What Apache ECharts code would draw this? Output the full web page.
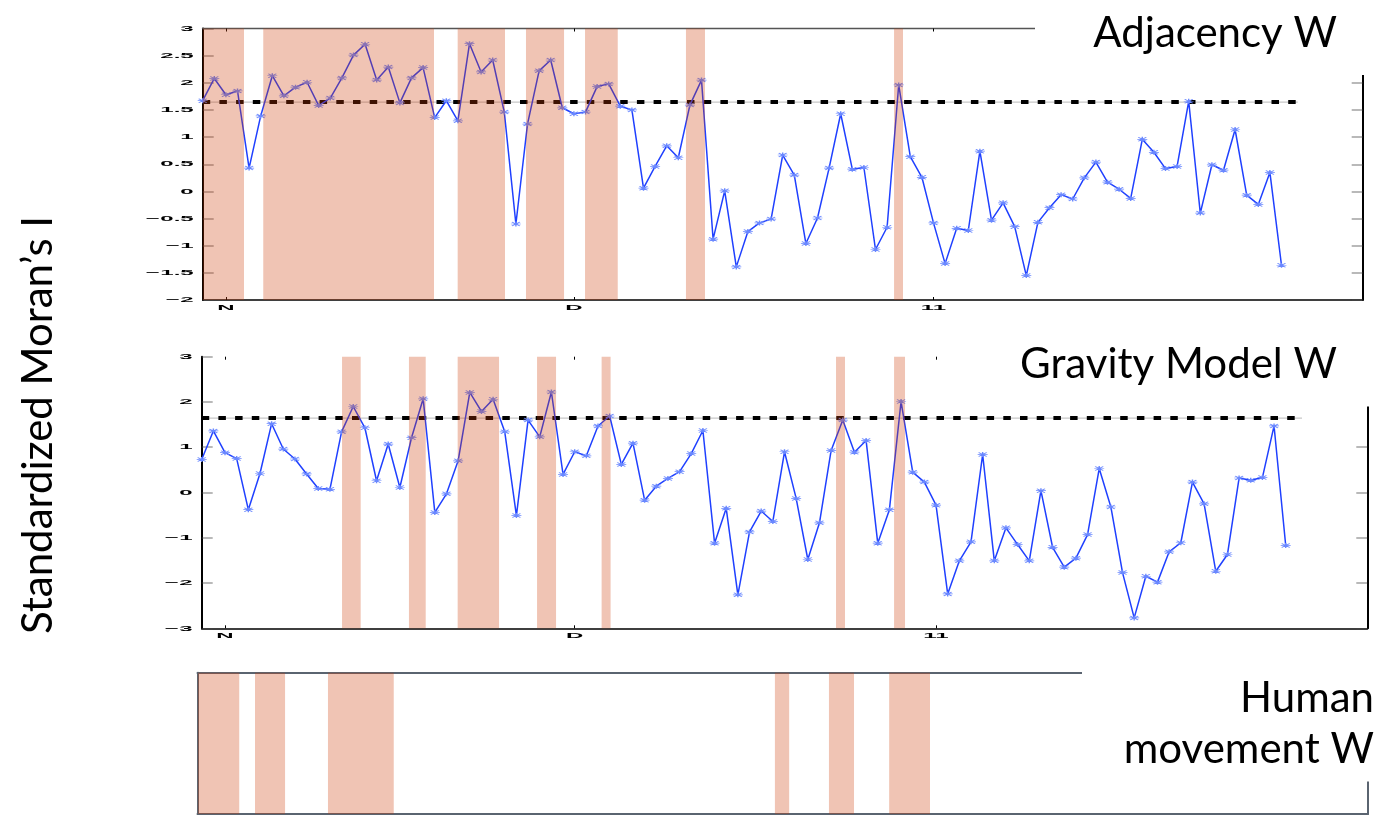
<!DOCTYPE html>
<html>
<head>
<meta charset="utf-8">
<script src="https://cdn.jsdelivr.net/npm/echarts@6/dist/echarts.min.js"></script>
<style>
  html, body { margin: 0; padding: 0; background: #fff; }
  #chart { width: 1389px; height: 817px; }
</style>
</head>
<body>
<div id="chart"></div>
<script>
// Daily standardized Moran's I; day 0 = 30 Oct, last day = 31 Jan
const adjacencyI = [
  1.67, 2.08, 1.78, 1.85, 0.43, 1.39, 2.13, 1.76, 1.92, 2.01,
  1.58, 1.72, 2.09, 2.51, 2.71, 2.05, 2.29, 1.63, 2.09, 2.28,
  1.36, 1.67, 1.30, 2.72, 2.20, 2.42, 1.46, -0.60, 1.24, 2.22,
  2.42, 1.54, 1.43, 1.46, 1.93, 1.98, 1.57, 1.50, 0.06, 0.46,
  0.84, 0.62, 1.59, 2.05, -0.88, 0.01, -1.39, -0.74, -0.58, -0.51,
  0.67, 0.30, -0.96, -0.49, 0.43, 1.43, 0.41, 0.44, -1.07, -0.66,
  1.96, 0.64, 0.26, -0.58, -1.33, -0.68, -0.72, 0.74, -0.53, -0.21,
  -0.65, -1.55, -0.57, -0.30, -0.06, -0.14, 0.25, 0.54, 0.17, 0.04,
  -0.13, 0.96, 0.72, 0.42, 0.46, 1.66, -0.40, 0.49, 0.39, 1.14,
  -0.07, -0.24, 0.35, -1.36
];
const gravityI = [
  0.73, 1.36, 0.88, 0.75, -0.38, 0.42, 1.52, 0.96, 0.74, 0.41,
  0.09, 0.07, 1.34, 1.90, 1.43, 0.26, 1.07, 0.11, 1.21, 2.07,
  -0.44, -0.03, 0.70, 2.21, 1.79, 2.06, 1.34, -0.51, 1.60, 1.23,
  2.22, 0.40, 0.90, 0.81, 1.47, 1.69, 0.62, 1.09, -0.17, 0.14,
  0.31, 0.46, 0.86, 1.37, -1.12, -0.35, -2.26, -0.87, -0.41, -0.64,
  0.90, -0.13, -1.48, -0.67, 0.93, 1.60, 0.89, 1.15, -1.12, -0.38,
  2.01, 0.45, 0.23, -0.28, -2.24, -1.51, -1.09, 0.84, -1.51, -0.78,
  -1.15, -1.51, 0.04, -1.21, -1.65, -1.45, -0.93, 0.53, -0.32, -1.77,
  -2.77, -1.85, -1.98, -1.31, -1.11, 0.23, -0.25, -1.74, -1.37, 0.32,
  0.27, 0.33, 1.47, -1.17
];

// 5% significance level and the span of its reference line (days)
const threshold = 1.645;
const thresholdSpan = [0, 94.4];

// Periods of significant clustering [start day, end day]
const adjacencyBands = [[0, 3.56], [5.22, 19.94], [21.98, 26.06], [27.87, 31.15], [32.96, 35.78], [41.66, 43.3], [59.6, 60.37]];
const gravityBands = [[12.04, 13.64], [17.78, 19.22], [21.96, 25.51], [28.77, 30.4], [34.31, 35.08], [54.42, 55.19], [59.4, 60.34]];
const movementBands = [[-0.41, 3.15], [4.51, 7.1], [10.8, 16.47], [49.33, 50.56], [53.99, 56.15], [59.18, 62.7]];

// Month ticks (first day of Nov, Dec, Jan)
const monthTicks = [2, 32, 63];
const monthLabels = ['N', 'D', '11'];
const adjacencyYTicks = [3, 2.5, 2, 1.5, 1, 0.5, 0, -0.5, -1, -1.5, -2];
const gravityYTicks = [3, 2, 1, 0, -1, -2, -3];

const panelTitles = ['Adjacency W', 'Gravity Model W'];
const movementTitle = ['Human', 'movement W'];
const yTitle = 'Standardized Moran\u2019s I';

const BLUE = '#1f40ff';
const BAND = 'rgba(205,58,5,0.3)';
const SLATE = '#5a6470';
const TICK_GRAY = 'rgba(70,70,70,0.5)';
const TICK_FONT = '"Liberation Sans", Arial, sans-serif';
const TITLE_FONT = 'Lato, "Open Sans", sans-serif';

const dayIndex = adjacencyI.map((_, i) => i);
const fmtTick = v => (v < 0 ? '\u2212' : '') + Math.abs(v);

function xAxisPair(grid, min, max, opts) {
  const base = {
    gridIndex: grid, type: 'value', min: min, max: max,
    axisLabel: { show: false }, splitLine: { show: false }
  };
  const tick = opts.ticks
    ? { show: true, inside: true, length: 3, customValues: monthTicks, lineStyle: { color: '#000', width: 1 } }
    : { show: false };
  return [
    Object.assign({}, base, {
      position: 'bottom',
      axisLine: { show: true, onZero: false, lineStyle: { color: opts.bottomColor, width: opts.bottomWidth } },
      axisTick: tick
    }),
    Object.assign({}, base, {
      position: 'top',
      axisLine: { show: opts.topLine, onZero: false, lineStyle: { color: opts.topColor, width: opts.topWidth } },
      axisTick: tick
    })
  ];
}

function yAxisPair(grid, min, max, interval, color, width, ticks) {
  const mk = pos => ({
    gridIndex: grid, type: 'value', position: pos, min: min, max: max, interval: interval,
    axisLine: { show: true, onZero: false, lineStyle: { color: color, width: width } },
    axisTick: ticks ? { show: true, inside: true, length: 11, lineStyle: { color: TICK_GRAY, width: 1.5 } } : { show: false },
    axisLabel: { show: false },
    splitLine: { show: false }
  });
  return [mk('left'), mk('right')];
}

function bandItem(params, api) {
  const cs = params.coordSys;
  const x0 = api.coord([api.value(0), 0])[0];
  const x1 = api.coord([api.value(1), 0])[0];
  return {
    type: 'rect',
    shape: { x: x0, y: cs.y, width: x1 - x0, height: cs.height },
    style: { fill: BAND }
  };
}

function panelSeries(grid, values, bands) {
  const xi = grid * 2, yi = grid * 2;
  const thrData = thresholdSpan.map(d => [d, threshold]);
  return [
    {
      type: 'line', xAxisIndex: xi, yAxisIndex: yi, data: thrData, symbol: 'none', silent: true, z: 2,
      lineStyle: { color: 'rgba(0,0,0,0.22)', width: 1.2 }
    },
    {
      type: 'line', xAxisIndex: xi, yAxisIndex: yi, data: thrData, symbol: 'none', silent: true, z: 3,
      lineStyle: { color: '#000', width: 4, type: [7.5, 9.2], cap: 'butt' }
    },
    {
      type: 'line', xAxisIndex: xi, yAxisIndex: yi, silent: true, z: 4,
      data: values.map((v, i) => [dayIndex[i], v]),
      showAllSymbol: true,
      symbol: 'path://M0,5L10,5M1,1L9,9M9,1L1,9M5,0L5,10',
      symbolSize: [10, 5], symbolKeepAspect: false,
      itemStyle: { color: 'rgba(0,0,0,0)', borderColor: '#6a88ff', borderWidth: 1 },
      lineStyle: { color: BLUE, width: 1.5 },
      emphasis: { disabled: true }
    },
    {
      type: 'custom', xAxisIndex: xi, yAxisIndex: yi, silent: true, z: 5,
      data: bands, encode: { x: [0, 1] }, renderItem: bandItem
    }
  ];
}

const movementMin = -0.448, movementMax = 100.46;

const option = {
  animation: false,
  backgroundColor: '#fff',
  grid: [
    { left: 202.7, top: 28.5, width: 1160, height: 271.5, outerBoundsMode: 'none' },
    { left: 201.7, top: 356.7, width: 1165.6, height: 271.6, outerBoundsMode: 'none' },
    { left: 197.5, top: 672.7, width: 1170.5, height: 141.3, outerBoundsMode: 'none' }
  ],
  xAxis: [].concat(
    xAxisPair(0, 0, 100, { bottomColor: '#000', bottomWidth: 1.5, topLine: true, topColor: '#555', topWidth: 1.3, ticks: true }),
    xAxisPair(1, 0, 100, { bottomColor: '#000', bottomWidth: 1.5, topLine: false, topColor: '#555', topWidth: 1, ticks: true }),
    xAxisPair(2, movementMin, movementMax, { bottomColor: SLATE, bottomWidth: 2, topLine: true, topColor: SLATE, topWidth: 2, ticks: false })
  ),
  yAxis: [].concat(
    yAxisPair(0, -2, 3, 0.5, '#000', 2, true),
    yAxisPair(1, -3, 3, 1, '#000', 2, true),
    yAxisPair(2, 0, 1, 1, SLATE, 2, false)
  ),
  series: [].concat(
    panelSeries(0, adjacencyI, adjacencyBands),
    panelSeries(1, gravityI, gravityBands),
    [{
      type: 'custom', xAxisIndex: 4, yAxisIndex: 4, silent: true, z: 5,
      data: movementBands, encode: { x: [0, 1] }, renderItem: bandItem
    }]
  )
};

const chart = echarts.init(document.getElementById('chart'), null, { renderer: 'canvas' });
chart.setOption(option);

// Tick labels use a wide, squat face: text stretched horizontally, placed via the axes.
function stretchedLabel(pos, text, align, vAlign) {
  return {
    type: 'text', z: 50, silent: true, x: pos[0], y: pos[1], scaleX: 3, scaleY: 1,
    style: {
      text: text, fontSize: 8, fontWeight: 'bold', fontFamily: TICK_FONT,
      fill: '#000', align: align, verticalAlign: vAlign
    }
  };
}

function tickLabels(grid, yTicks, yMin) {
  const finder = { xAxisIndex: grid * 2, yAxisIndex: grid * 2 };
  const out = [];
  yTicks.forEach(v => {
    const p = chart.convertToPixel(finder, [0, v]);
    out.push(stretchedLabel([p[0] - 9, p[1]], fmtTick(v), 'right', 'middle'));
  });
  monthTicks.forEach((d, i) => {
    const p = chart.convertToPixel(finder, [d, yMin]);
    out.push(stretchedLabel([p[0], p[1] + 3.5], monthLabels[i], 'center', 'top'));
  });
  return out;
}

const titleText = (x, y, text) => ({
  type: 'text', z: 101, silent: true, x: x, y: y,
  style: { text: text, font: '42px ' + TITLE_FONT, fill: '#000', align: 'right', verticalAlign: 'middle' }
});

chart.setOption({
  graphic: [].concat(
    tickLabels(0, adjacencyYTicks, -2),
    tickLabels(1, gravityYTicks, -3),
    [
      // title plates that interrupt the frames
      { type: 'rect', z: 100, silent: true, shape: { x: 1035, y: 0, width: 354, height: 75 }, style: { fill: '#fff' } },
      { type: 'rect', z: 100, silent: true, shape: { x: 1000, y: 335, width: 389, height: 71.5 }, style: { fill: '#fff' } },
      { type: 'rect', z: 100, silent: true, shape: { x: 1082, y: 660, width: 307, height: 121.5 }, style: { fill: '#fff' } },
      titleText(1337, 33.5, panelTitles[0]),
      titleText(1337, 364.5, panelTitles[1]),
      titleText(1374, 698, movementTitle[0]),
      titleText(1374, 749.5, movementTitle[1]),
      { type: 'text', z: 101, silent: true, x: 38, y: 425, rotation: Math.PI / 2,
        style: { text: yTitle, font: '42px ' + TITLE_FONT, fill: '#000', align: 'center', verticalAlign: 'middle' } }
    ]
  )
});
</script>
</body>
</html>
